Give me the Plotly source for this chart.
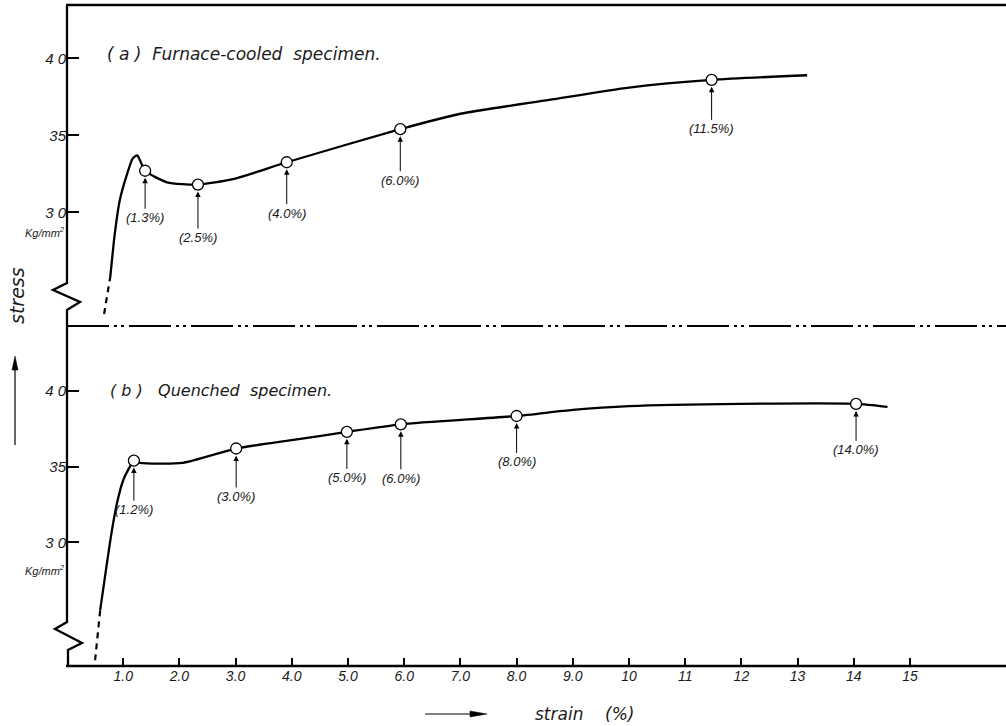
import plotly.graph_objects as go

# ---------------- data ----------------
# (a) furnace-cooled specimen
a_dash_x = [0.66, 0.77]
a_dash_y = [23.4, 25.8]
a_x = [0.77, 0.85, 0.94, 1.07, 1.17, 1.25, 1.39, 1.78, 2.33, 2.95, 3.91, 5.93, 7.0, 8.58, 10.0, 11.47, 13.17]
a_y = [25.8, 28.6, 30.8, 32.5, 33.5, 33.7, 32.7, 31.95, 31.8, 32.15, 33.25, 35.4, 36.4, 37.3, 38.1, 38.6, 38.9]
a_mark_x = [1.39, 2.33, 3.91, 5.93, 11.47]
a_mark_y = [32.7, 31.8, 33.25, 35.4, 38.6]
a_labels = ["(1.3%)", "(2.5%)", "(4.0%)", "(6.0%)", "(11.5%)"]

# (b) quenched specimen
b_dash_x = [0.50, 0.59]
b_dash_y = [22.2, 25.5]
b_x = [0.59, 0.71, 0.80, 0.89, 1.00, 1.12, 1.19, 1.30, 2.06, 3.01, 4.0, 4.98, 5.94, 8.0, 9.0, 10.0, 11.98, 14.04, 14.6]
b_y = [25.5, 28.6, 30.8, 32.6, 34.1, 35.0, 35.4, 35.25, 35.25, 36.2, 36.75, 37.3, 37.8, 38.35, 38.75, 39.0, 39.15, 39.15, 38.95]
b_mark_x = [1.19, 3.01, 4.98, 5.94, 8.0, 14.04]
b_mark_y = [35.4, 36.2, 37.3, 37.8, 38.35, 39.15]
b_labels = ["(1.2%)", "(3.0%)", "(5.0%)", "(6.0%)", "(8.0%)", "(14.0%)"]

x_tickvals = [1, 2, 3, 4, 5, 6, 7, 8, 9, 10, 11, 12, 13, 14, 15]
x_ticktext = ["1.0", "2.0", "3.0", "4.0", "5.0", "6.0", "7.0", "8.0", "9.0",
              "10", "11", "12", "13", "14", "15"]
y_tickvals = [30, 35, 40]
y_ticktext = ["3 0", "35", "4 0"]

# label offsets (pixels below point)
a_off = [47, 53, 51, 51, 49]
b_off = [49, 48, 46, 54, 46, 46]

# ---------------- layout helpers ----------------
W, H = 1006, 726
L, R, T, B = 67, 0, 5, 60
PW, PH = W - L - R, H - T - B
SEP = 326


def px(xp):
    return (xp - L) / PW


def py(yp):
    return (H - B - yp) / PH


FONT = "Liberation Sans"
FONT2 = "DejaVu Sans"
INK = "#1a1a1a"

fig = go.Figure()

line_style = dict(color="black", width=2.3)

# top panel
fig.add_trace(go.Scatter(x=a_dash_x, y=a_dash_y, mode="lines", xaxis="x2", yaxis="y",
                         line=dict(color="black", width=2.2, dash="6px,5px"), showlegend=False))
fig.add_trace(go.Scatter(x=a_x, y=a_y, mode="lines", xaxis="x2", yaxis="y",
                         line=dict(line_style, shape="spline", smoothing=0.6), showlegend=False))
fig.add_trace(go.Scatter(x=a_mark_x, y=a_mark_y, mode="markers", xaxis="x2", yaxis="y",
                         marker=dict(size=11, color="white", line=dict(color="black", width=1.3)),
                         showlegend=False))
# bottom panel
fig.add_trace(go.Scatter(x=b_dash_x, y=b_dash_y, mode="lines", xaxis="x", yaxis="y2",
                         line=dict(color="black", width=2.2, dash="6px,5px"), showlegend=False))
fig.add_trace(go.Scatter(x=b_x, y=b_y, mode="lines", xaxis="x", yaxis="y2",
                         line=dict(line_style, shape="spline", smoothing=0.6), showlegend=False))
fig.add_trace(go.Scatter(x=b_mark_x, y=b_mark_y, mode="markers", xaxis="x", yaxis="y2",
                         marker=dict(size=11, color="white", line=dict(color="black", width=1.3)),
                         showlegend=False))

annotations = []
for xv, yv, lab, off in zip(a_mark_x, a_mark_y, a_labels, a_off):
    annotations.append(dict(x=xv, y=yv, xref="x2", yref="y", text="<i>" + lab + "</i>",
                            showarrow=True, ax=0, ay=off, arrowhead=2, arrowsize=1.1,
                            arrowwidth=1, arrowcolor="black", standoff=7,
                            font=dict(family=FONT, size=13, color=INK)))
for xv, yv, lab, off in zip(b_mark_x, b_mark_y, b_labels, b_off):
    annotations.append(dict(x=xv, y=yv, xref="x", yref="y2", text="<i>" + lab + "</i>",
                            showarrow=True, ax=0, ay=off, arrowhead=2, arrowsize=1.1,
                            arrowwidth=1, arrowcolor="black", standoff=7,
                            font=dict(family=FONT, size=13, color=INK)))

# panel titles
annotations.append(dict(x=px(105), y=py(54), xref="paper", yref="paper", xanchor="left",
                        yanchor="middle", showarrow=False,
                        text="<i>( a )  Furnace-cooled  specimen.</i>",
                        font=dict(family=FONT2, size=17, color=INK)))
annotations.append(dict(x=px(108), y=py(391), xref="paper", yref="paper", xanchor="left",
                        yanchor="middle", showarrow=False,
                        text="<i>( b )   Quenched  specimen.</i>",
                        font=dict(family=FONT2, size=16, color=INK)))
# units
for yy in (232, 570):
    annotations.append(dict(x=px(67), y=py(yy), xref="paper", yref="paper", xanchor="right",
                            yanchor="middle", showarrow=False,
                            text="<i>Kg/mm<sup>2</sup></i>",
                            font=dict(family=FONT, size=11, color=INK)))
# stress label
annotations.append(dict(x=px(17), y=py(296), xref="paper", yref="paper", xanchor="center",
                        yanchor="middle", showarrow=False, textangle=-90,
                        text="<i>stress</i>", font=dict(family=FONT2, size=19, color=INK)))
# strain label
annotations.append(dict(x=px(533), y=py(714), xref="paper", yref="paper", xanchor="left",
                        yanchor="middle", showarrow=False,
                        text="<i>strain    (%)</i>", font=dict(family=FONT2, size=17, color=INK)))


def path(points, close=False):
    s = "M " + " L ".join(f"{px(a):.5f},{py(b):.5f}" for a, b in points)
    return s + (" Z" if close else "")


shapes = [
    # left axis with breaks
    dict(type="path", xref="paper", yref="paper",
         path=path([(67, 5), (67, 283), (53, 290), (80, 302), (67, 310), (67, 622),
                    (55, 629), (82, 643), (68, 650), (68, 666)]),
         line=dict(color="black", width=2.3)),
    # top border
    dict(type="line", xref="paper", yref="paper", x0=px(66), x1=px(1006), y0=py(5), y1=py(5),
         line=dict(color="black", width=2.5)),
    # separator
    dict(type="line", xref="paper", yref="paper", x0=px(67), x1=px(1006), y0=py(SEP), y1=py(SEP),
         line=dict(color="black", width=2, dash="42px,5px,3px,4px,3px,5px")),
    # bottom axis
    dict(type="line", xref="paper", yref="paper", x0=px(66), x1=px(1006), y0=py(666), y1=py(666),
         line=dict(color="black", width=2.5)),
    # stress arrow
    dict(type="line", xref="paper", yref="paper", x0=px(15), x1=px(15), y0=py(445), y1=py(366),
         line=dict(color="black", width=1.2)),
    dict(type="path", xref="paper", yref="paper", path=path([(15, 356), (12, 370), (18, 370)], True),
         fillcolor="black", line=dict(color="black", width=0.5)),
    # strain arrow
    dict(type="line", xref="paper", yref="paper", x0=px(425), x1=px(475), y0=py(714), y1=py(714),
         line=dict(color="black", width=1.2)),
    dict(type="path", xref="paper", yref="paper", path=path([(487, 714), (470, 711), (470, 717)], True),
         fillcolor="black", line=dict(color="black", width=0.5)),
]

split = py(SEP)
tickfont_y = dict(family=FONT, size=15, color=INK)
fig.update_layout(
    width=W, height=H,
    margin=dict(l=L, r=R, t=T, b=B),
    paper_bgcolor="white", plot_bgcolor="white",
    showlegend=False,
    xaxis=dict(domain=[0, 1], range=[0, PW / 56.2], anchor="y2", tickvals=x_tickvals,
               ticktext=["<i>" + t + "</i>" for t in x_ticktext], ticks="inside", ticklen=8,
               tickwidth=2, tickcolor="black", showgrid=False, zeroline=False, showline=False,
               tickfont=dict(family=FONT, size=14, color=INK)),
    xaxis2=dict(domain=[0, 1], matches="x", anchor="y", visible=False),
    yaxis=dict(domain=[split, 1], range=[22.62, 43.46], tickvals=y_tickvals,
               ticktext=["<i>" + t + "</i>" for t in y_ticktext], ticks="inside", ticklen=12,
               tickwidth=2, tickcolor="black", showgrid=False, zeroline=False, showline=False,
               tickfont=tickfont_y, anchor="x2"),
    yaxis2=dict(domain=[0, split], range=[21.82, 44.30], tickvals=y_tickvals,
                ticktext=["<i>" + t + "</i>" for t in y_ticktext], ticks="inside", ticklen=12,
                tickwidth=2, tickcolor="black", showgrid=False, zeroline=False, showline=False,
                tickfont=tickfont_y, anchor="x"),
    annotations=annotations,
    shapes=shapes,
)

fig.write_html("out.html", config={"displayModeBar": False},
               post_script="document.body.style.margin='0';document.body.style.padding='0';")
